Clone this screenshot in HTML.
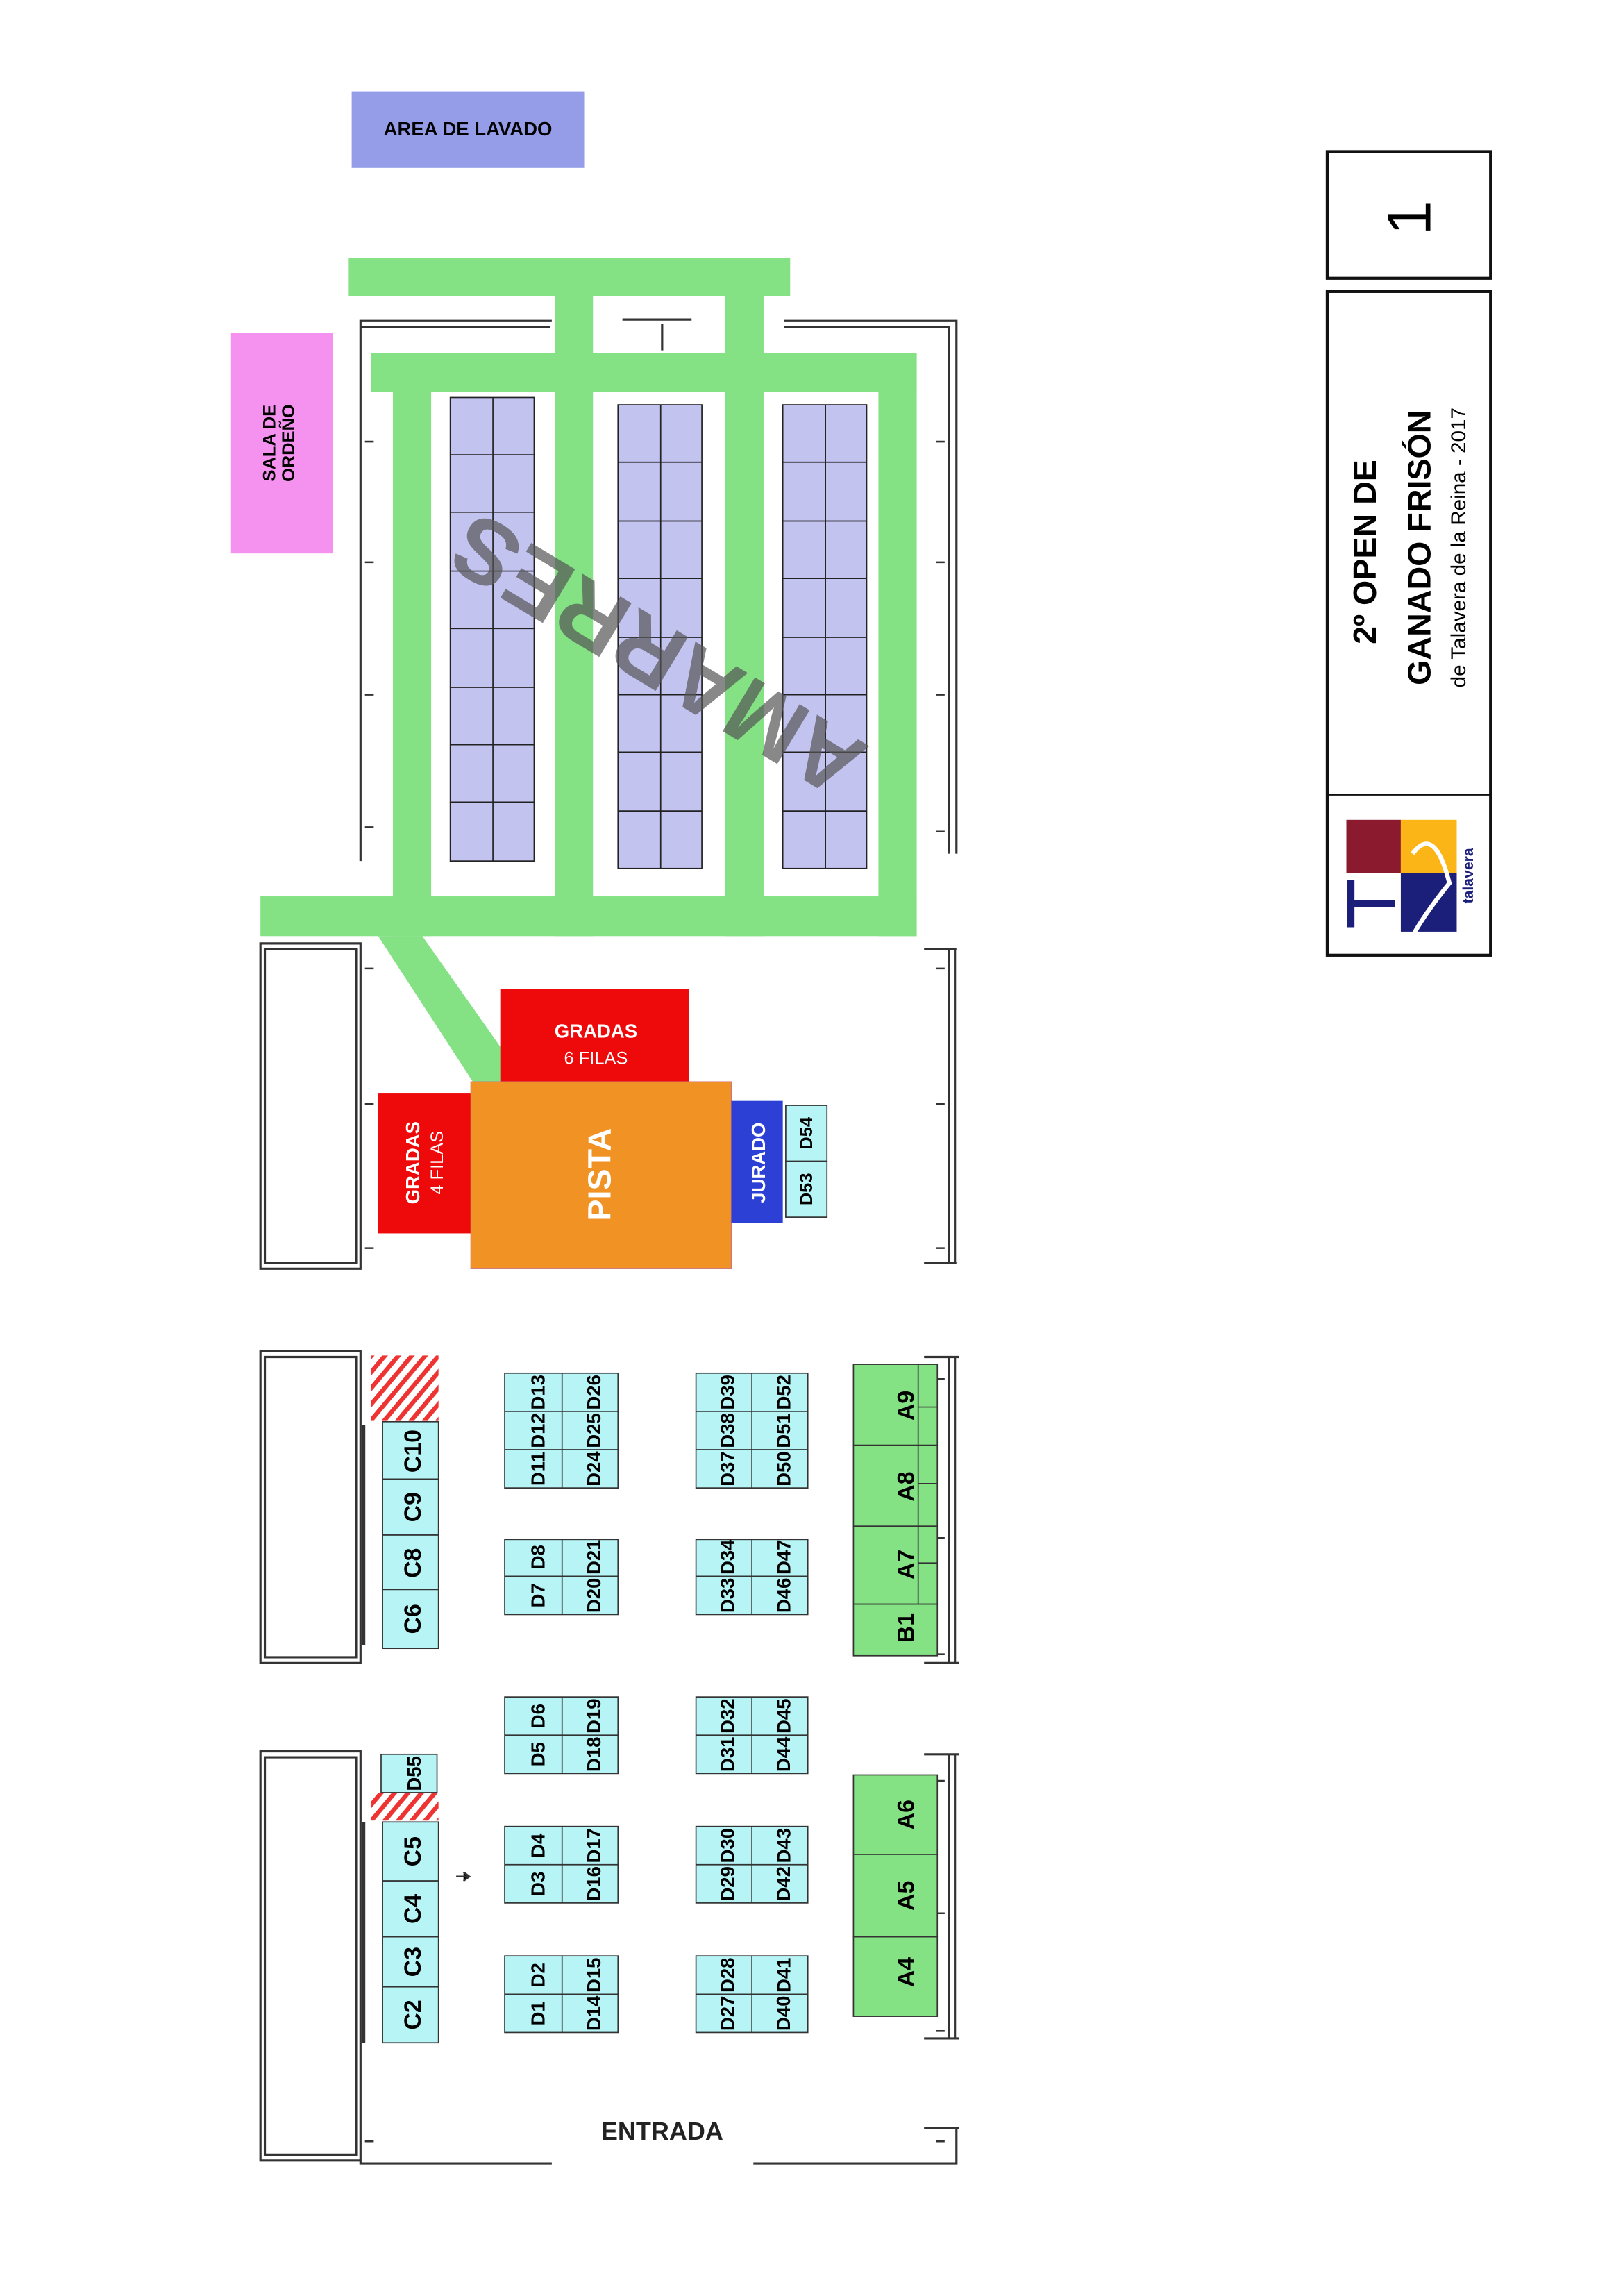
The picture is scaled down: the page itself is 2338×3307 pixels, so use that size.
<!DOCTYPE html>
<html><head><meta charset="utf-8"><style>html,body{margin:0;padding:0;background:#fff}svg{display:block}</style></head>
<body>
<svg width="2338" height="3307" viewBox="0 0 1103 1560" xmlns="http://www.w3.org/2000/svg" font-family="Liberation Sans, sans-serif">
<defs>
<pattern id="h" patternUnits="userSpaceOnUse" width="7" height="7" patternTransform="rotate(40)">
<rect width="7" height="7" fill="#fff"/><rect width="3" height="7" fill="#e33"/></pattern>
</defs>
<rect width="1103" height="1560" fill="#fff"/>
<!-- walls -->
<g stroke="#333" fill="none" stroke-width="1.5">
<path d="M245,585 V218 H375 M245,222 H374"/>
<path d="M533,218 H650 V580 M533,222 H645 V580"/>
<path d="M423,217 H470 M450,220 V238"/>
<path d="M177,641 H245 V862 H177 Z M180,645 H242 V858 H180 Z"/>
<path d="M177,918 H245 V1130 H177 Z M180,922 H242 V1126 H180 Z"/>
<path d="M177,1190 H245 V1468 H177 Z M180,1194 H242 V1464 H180 Z"/>
<path d="M245,1468 V1470 H375 M512,1470 H650 V1445"/>
<path d="M645,645 V858 M649,645 V858 M628,645 H650 M628,858 H650"/>
<path d="M645,922 V1130 M649,922 V1130 M628,922 H652 M628,1130 H652"/>
<path d="M645,1192 V1385 M649,1192 V1385 M628,1192 H652 M628,1385 H652"/>
<path d="M628,1446 H652"/>
<path d="M247,968 V1118 M247,1238 V1388" stroke-width="2.5"/>
</g>
<g stroke="#333" stroke-width="1.2">
<path d="M248,300 h6 m-3,0 v0 M248,382h6 M248,472h6 M248,562h6 M248,658h6 M248,750h6 M248,848h6 M636,300h6 M636,382h6 M636,472h6 M636,565h6 M636,658h6 M636,750h6 M636,848h6 M248,1455h6 M636,1455h6 M636,937h6 M636,1045h6 M636,1124h6 M636,1210h6 M636,1300h6 M636,1380h6"/>
<path d="M310,1275 H318 M315,1272 L319,1275 L315,1278"/>
</g>
<!-- lavado / ordeno -->
<rect x="239" y="62" width="158" height="52" fill="#959de8"/>
<text x="318" y="92" font-size="13" font-weight="bold" text-anchor="middle">AREA DE LAVADO</text>
<rect x="157" y="226" width="69" height="150" fill="#f592f0"/>
<text transform="rotate(-90 191 301)" x="191" y="297" font-size="12" font-weight="bold" text-anchor="middle">SALA DE<tspan x="191" dy="13">ORDEÑO</tspan></text>
<!-- green paths -->
<g fill="#84e184">
<rect x="237" y="175" width="300" height="26"/>
<rect x="377" y="201" width="26" height="40"/>
<rect x="493" y="201" width="26" height="40"/>
<rect x="252" y="240" width="371" height="26"/>
<rect x="267" y="240" width="26" height="396"/>
<rect x="377" y="240" width="26" height="396"/>
<rect x="493" y="240" width="26" height="396"/>
<rect x="597" y="240" width="26" height="396"/>
<rect x="177" y="609" width="446" height="27"/>
<polygon points="257,636 287,636 342,714 342,736 322,736"/>
</g>
<!-- stall blocks -->
<g fill="#c3c3f0" stroke="#222" stroke-width="0.8">
<rect x="306" y="270" width="57" height="315"/><rect x="420" y="275" width="57" height="315"/><rect x="532" y="275" width="57" height="315"/>
</g>
<g stroke="#222" stroke-width="0.8">
<path d="M335,270V585 M449,275V590 M561,275V590"/>
<path d="M306,309h57M306,348h57M306,388h57M306,427h57M306,467h57M306,506h57M306,545h57"/>
<path d="M420,314h57M420,354h57M420,393h57M420,433h57M420,472h57M420,511h57M420,551h57"/>
<path d="M532,314h57M532,354h57M532,393h57M532,433h57M532,472h57M532,511h57M532,551h57"/>
</g>
<text transform="rotate(211 447 445)" x="447" y="466" font-size="62" font-weight="bold" text-anchor="middle" fill="#555" fill-opacity="0.7">AMARRES</text>
<!-- pista -->
<rect x="340" y="672" width="128" height="63" fill="#ee0a0a"/>
<text x="405" y="705" font-size="13" font-weight="bold" fill="#fff" text-anchor="middle">GRADAS</text>
<text x="405" y="723" font-size="12" fill="#fff" text-anchor="middle">6 FILAS</text>
<rect x="257" y="743" width="63" height="95" fill="#ee0a0a"/>
<text transform="rotate(-90 289 790)" x="289" y="786" font-size="13" font-weight="bold" fill="#fff" text-anchor="middle">GRADAS<tspan x="289" dy="16" font-weight="normal" font-size="12">4 FILAS</tspan></text>
<rect x="320" y="735" width="177" height="127" fill="#f09224" stroke="#c77" stroke-width="0.6"/>
<text transform="rotate(-90 407 798)" x="407" y="806" font-size="22" font-weight="bold" fill="#fff" text-anchor="middle">PISTA</text>
<rect x="497" y="748" width="35" height="83" fill="#2d40d6"/>
<text transform="rotate(-90 515 790)" x="515" y="795" font-size="13" font-weight="bold" fill="#fff" text-anchor="middle">JURADO</text>
<g fill="#b7f4f6" stroke="#333" stroke-width="0.8"><rect x="534" y="751" width="28" height="38"/><rect x="534" y="789" width="28" height="38"/></g>
<g font-size="12" font-weight="bold" text-anchor="middle">
<text transform="rotate(-90 548 770)" x="548" y="774">D54</text>
<text transform="rotate(-90 548 808)" x="548" y="812">D53</text>
</g>
<!-- hatches -->
<rect x="252" y="921" width="46" height="44" fill="url(#h)"/>
<rect x="252" y="1218" width="46" height="19" fill="url(#h)"/>
<!-- C column -->
<g fill="#b7f4f6" stroke="#333" stroke-width="0.8">
<rect x="260" y="966" width="38" height="39"/><rect x="260" y="1005" width="38" height="38"/><rect x="260" y="1043" width="38" height="37"/><rect x="260" y="1080" width="38" height="40"/>
<rect x="260" y="1238" width="38" height="40"/><rect x="260" y="1278" width="38" height="38"/><rect x="260" y="1316" width="38" height="34"/><rect x="260" y="1350" width="38" height="38"/>
<rect x="259" y="1192" width="38" height="26"/>
</g>
<g font-size="16" font-weight="bold" text-anchor="middle">
<text transform="rotate(-90 280 986)" x="280" y="992">C10</text>
<text transform="rotate(-90 280 1024)" x="280" y="1030">C9</text>
<text transform="rotate(-90 280 1062)" x="280" y="1068">C8</text>
<text transform="rotate(-90 280 1100)" x="280" y="1106">C6</text>
<text transform="rotate(-90 280 1258)" x="280" y="1264">C5</text>
<text transform="rotate(-90 280 1297)" x="280" y="1303">C4</text>
<text transform="rotate(-90 280 1333)" x="280" y="1339">C3</text>
<text transform="rotate(-90 280 1369)" x="280" y="1375">C2</text>
<text transform="rotate(-90 281 1205)" x="281" y="1210" font-size="13">D55</text>
</g>
<!-- D blocks -->
<g fill="#b7f4f6" stroke="#333" stroke-width="0.8">
<rect x="343" y="933" width="77" height="78"/><rect x="473" y="933" width="76" height="78"/>
<rect x="343" y="1046" width="77" height="51"/><rect x="473" y="1046" width="76" height="51"/>
<rect x="343" y="1153" width="77" height="52"/><rect x="473" y="1153" width="76" height="52"/>
<rect x="343" y="1241" width="77" height="52"/><rect x="473" y="1241" width="76" height="52"/>
<rect x="343" y="1329" width="77" height="52"/><rect x="473" y="1329" width="76" height="52"/>
</g>
<g stroke="#333" stroke-width="0.8">
<path d="M382,933V1011M511,933V1011M343,959h77M343,985h77M473,959h76M473,985h76"/>
<path d="M382,1046V1097M511,1046V1097M343,1071h77M473,1071h76"/>
<path d="M382,1153V1205M511,1153V1205M343,1179h77M473,1179h76"/>
<path d="M382,1241V1293M511,1241V1293M343,1267h77M473,1267h76"/>
<path d="M382,1329V1381M511,1329V1381M343,1355h77M473,1355h76"/>
</g>
<g font-size="13" font-weight="bold" text-anchor="middle" font-family="Liberation Sans Narrow, Liberation Sans, sans-serif">
<text transform="rotate(-90 365 946)" x="365" y="951">D13</text>
<text transform="rotate(-90 365 972)" x="365" y="977">D12</text>
<text transform="rotate(-90 365 998)" x="365" y="1003">D11</text>
<text transform="rotate(-90 403 946)" x="403" y="951">D26</text>
<text transform="rotate(-90 403 972)" x="403" y="977">D25</text>
<text transform="rotate(-90 403 998)" x="403" y="1003">D24</text>
<text transform="rotate(-90 494 946)" x="494" y="951">D39</text>
<text transform="rotate(-90 494 972)" x="494" y="977">D38</text>
<text transform="rotate(-90 494 998)" x="494" y="1003">D37</text>
<text transform="rotate(-90 532 946)" x="532" y="951">D52</text>
<text transform="rotate(-90 532 972)" x="532" y="977">D51</text>
<text transform="rotate(-90 532 998)" x="532" y="1003">D50</text>

<text transform="rotate(-90 365 1058)" x="365" y="1063">D8</text>
<text transform="rotate(-90 365 1084)" x="365" y="1089">D7</text>
<text transform="rotate(-90 403 1058)" x="403" y="1063">D21</text>
<text transform="rotate(-90 403 1084)" x="403" y="1089">D20</text>
<text transform="rotate(-90 494 1058)" x="494" y="1063">D34</text>
<text transform="rotate(-90 494 1084)" x="494" y="1089">D33</text>
<text transform="rotate(-90 532 1058)" x="532" y="1063">D47</text>
<text transform="rotate(-90 532 1084)" x="532" y="1089">D46</text>

<text transform="rotate(-90 365 1166)" x="365" y="1171">D6</text>
<text transform="rotate(-90 365 1192)" x="365" y="1197">D5</text>
<text transform="rotate(-90 403 1166)" x="403" y="1171">D19</text>
<text transform="rotate(-90 403 1192)" x="403" y="1197">D18</text>
<text transform="rotate(-90 494 1166)" x="494" y="1171">D32</text>
<text transform="rotate(-90 494 1192)" x="494" y="1197">D31</text>
<text transform="rotate(-90 532 1166)" x="532" y="1171">D45</text>
<text transform="rotate(-90 532 1192)" x="532" y="1197">D44</text>

<text transform="rotate(-90 365 1254)" x="365" y="1259">D4</text>
<text transform="rotate(-90 365 1280)" x="365" y="1285">D3</text>
<text transform="rotate(-90 403 1254)" x="403" y="1259">D17</text>
<text transform="rotate(-90 403 1280)" x="403" y="1285">D16</text>
<text transform="rotate(-90 494 1254)" x="494" y="1259">D30</text>
<text transform="rotate(-90 494 1280)" x="494" y="1285">D29</text>
<text transform="rotate(-90 532 1254)" x="532" y="1259">D43</text>
<text transform="rotate(-90 532 1280)" x="532" y="1285">D42</text>

<text transform="rotate(-90 365 1342)" x="365" y="1347">D2</text>
<text transform="rotate(-90 365 1368)" x="365" y="1373">D1</text>
<text transform="rotate(-90 403 1342)" x="403" y="1347">D15</text>
<text transform="rotate(-90 403 1368)" x="403" y="1373">D14</text>
<text transform="rotate(-90 494 1342)" x="494" y="1347">D28</text>
<text transform="rotate(-90 494 1368)" x="494" y="1373">D27</text>
<text transform="rotate(-90 532 1342)" x="532" y="1347">D41</text>
<text transform="rotate(-90 532 1368)" x="532" y="1373">D40</text>
</g>
<!-- A column -->
<g fill="#84e184" stroke="#333" stroke-width="0.8">
<rect x="580" y="927" width="57" height="55"/><rect x="580" y="982" width="57" height="55"/><rect x="580" y="1037" width="57" height="53"/><rect x="580" y="1090" width="57" height="35"/>
<rect x="580" y="1206" width="57" height="54"/><rect x="580" y="1260" width="57" height="56"/><rect x="580" y="1316" width="57" height="54"/>
</g>
<path d="M624,927V1090 M624,956h13 M624,1008h13 M624,1062h13" stroke="#333" stroke-width="0.8"/>
<g font-size="16" font-weight="bold" text-anchor="middle">
<text transform="rotate(-90 615 955)" x="615" y="961">A9</text>
<text transform="rotate(-90 615 1010)" x="615" y="1016">A8</text>
<text transform="rotate(-90 615 1063)" x="615" y="1069">A7</text>
<text transform="rotate(-90 615 1106)" x="615" y="1112">B1</text>
<text transform="rotate(-90 615 1233)" x="615" y="1239">A6</text>
<text transform="rotate(-90 615 1288)" x="615" y="1294">A5</text>
<text transform="rotate(-90 615 1340)" x="615" y="1346">A4</text>
</g>
<text x="450" y="1454" font-size="17" font-weight="bold" text-anchor="middle" fill="#222">ENTRADA</text>
<!-- title -->
<g fill="none" stroke="#111">
<rect x="902" y="103" width="111" height="86" stroke-width="2"/>
<rect x="902" y="198" width="111" height="451" stroke-width="2"/>
<path d="M902,540H1013" stroke-width="1"/>
</g>
<text transform="rotate(-90 958 148)" x="958" y="162" font-size="42" text-anchor="middle">1</text>
<g text-anchor="middle" font-weight="bold">
<text transform="rotate(-90 935 375)" x="935" y="375" font-size="22">2º OPEN DE</text>
<text transform="rotate(-90 964 372)" x="964" y="380" font-size="22">GANADO FRISÓN</text>
</g>
<text transform="rotate(-90 991 372)" x="991" y="377" font-size="14" text-anchor="middle">de Talavera de la Reina - 2017</text>
<!-- logo -->
<rect x="915" y="557" width="37" height="36" fill="#8b1a2e"/>
<rect x="952" y="557" width="38" height="36" fill="#fbb516"/>
<rect x="915" y="593" width="37" height="40" fill="#fff"/>
<rect x="952" y="593" width="38" height="40" fill="#1c1f7a"/>
<path d="M918,598V630 M918,614H948" stroke="#1c1f7a" stroke-width="5"/>
<path d="M960,580 Q975,560 985,600 Q965,625 958,640" stroke="#fff" stroke-width="3" fill="none"/>
<text transform="rotate(-90 997 595)" x="997" y="599" font-size="10" font-weight="bold" fill="#1c1f7a" text-anchor="middle">talavera</text>
</svg>
</body></html>
